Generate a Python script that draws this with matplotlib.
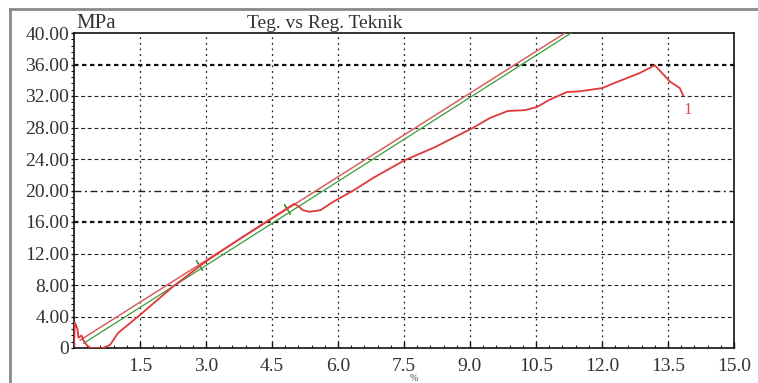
import matplotlib
matplotlib.use("Agg")
import matplotlib.pyplot as plt
from matplotlib.lines import Line2D
from matplotlib.ticker import MultipleLocator, FixedLocator, FixedFormatter

# Stress-strain record (strain in %, stress in MPa)
strain = [0.0, 0.02, 0.08, 0.10, 0.17, 0.22, 0.30, 0.38, 0.66, 0.82, 1.0, 1.5, 2.25,
          3.0, 3.75, 4.5, 5.0, 5.1, 5.2, 5.35, 5.6, 5.9, 6.35, 6.8, 7.5, 8.2, 8.8,
          9.05, 9.45, 9.86, 10.25, 10.52, 10.8, 11.2, 11.5, 12.0, 12.35, 12.85,
          13.2, 13.55, 13.77, 13.84]
stress = [0.2, 3.2, 2.4, 1.3, 1.6, 0.9, 0.3, 0.0, 0.0, 0.4, 1.9, 4.2, 7.8,
          11.0, 13.8, 16.5, 18.3, 18.0, 17.5, 17.3, 17.5, 18.6, 20.0, 21.6, 23.8, 25.5, 27.2,
          27.9, 29.2, 30.1, 30.2, 30.6, 31.5, 32.5, 32.6, 33.0, 33.8, 34.9,
          35.9, 33.8, 33.0, 32.1]

# Modulus lines (end points) and fit-range marks
mod_red_x = [0.14, 11.16]
mod_red_y = [1.0, 40.0]
mod_green_x = [0.22, 11.30]
mod_green_y = [0.6, 40.0]
fit_x = [2.85, 4.85]
fit_y = [10.6, 17.7]

x_ticks = [0, 1.5, 3.0, 4.5, 6.0, 7.5, 9.0, 10.5, 12.0, 13.5, 15.0]
x_labels = ["", "1.5", "3.0", "4.5", "6.0", "7.5", "9.0", "10.5", "12.0", "13.5", "15.0"]
y_ticks = [0, 4, 8, 12, 16, 20, 24, 28, 32, 36, 40]
y_labels = ["0", "4.00", "8.00", "12.00", "16.00", "20.00", "24.00", "28.00",
            "32.00", "36.00", "40.00"]

W, H = 758, 383
fig = plt.figure(figsize=(W / 100, H / 100), dpi=100)
fig.patch.set_facecolor("white")
plt.rcParams["font.family"] = ["Liberation Serif", "DejaVu Serif"]

L, R, T, B = 74, 734, 33, 348
ax = fig.add_axes([L / W, 1 - B / H, (R - L) / W, (B - T) / H])
ax.set_xlim(0, 15)
ax.set_ylim(0, 40)

# grid
gcol = "#222222"
for xv in x_ticks[1:-1]:
    ax.axvline(xv, color=gcol, lw=0.9, ls=(0, (1.5, 3.0)), zorder=1)
for yv in y_ticks[1:-1]:
    if yv in (16, 36):
        ax.axhline(yv, color="#111111", lw=1.6, ls=(0, (2.0, 1.6)), zorder=1)
    elif yv == 20:
        ax.axhline(yv, color=gcol, lw=1.0, ls=(0, (5, 2.5, 1.5, 2.5)), zorder=1)
    else:
        ax.axhline(yv, color=gcol, lw=0.8, ls=(0, (3.5, 2.5)), zorder=1)

# curves
ax.plot(mod_green_x, mod_green_y, color="#3c9a3c", lw=0.9, zorder=3)
ax.plot(fit_x, fit_y, ls="none", marker=(2, 2, 32), markersize=9,
        markeredgecolor="#3c9a3c", markeredgewidth=0.9, zorder=3)
ax.plot(mod_red_x, mod_red_y, color="#d86060", lw=1.1, zorder=3)
ax.plot(strain, stress, color="#e03838", lw=1.3, zorder=4)
ax.text(13.95, 30.2, "1", color="#e04848", fontsize=12, ha="center", va="center", zorder=5)

# ticks
ax.xaxis.set_major_locator(FixedLocator(x_ticks))
ax.xaxis.set_major_formatter(FixedFormatter(x_labels))
ax.yaxis.set_major_locator(FixedLocator(y_ticks))
ax.yaxis.set_major_formatter(FixedFormatter(y_labels))
ax.xaxis.set_minor_locator(MultipleLocator(0.3))
ax.yaxis.set_minor_locator(MultipleLocator(0.8))
ax.tick_params(axis="x", which="major", direction="in", length=4, width=1.0,
               labelsize=14, pad=7, colors="#111111", labelcolor="#333333")
ax.tick_params(axis="x", which="minor", direction="in", length=2.5, width=0.8, colors="#111111")
ax.tick_params(axis="y", which="major", direction="out", length=2.5, width=1.0,
               labelsize=14, pad=1, colors="#111111", labelcolor="#333333")
ax.tick_params(axis="y", which="minor", direction="out", length=2, width=0.8, colors="#111111")
for s in ax.spines.values():
    s.set_color("#111111")
    s.set_linewidth(1.2)

# texts above the plot
fig.text(76 / W, 1 - 28 / H, "MPa", fontsize=15, color="#333333", ha="left", va="baseline")
fig.text(247 / W, 1 - 28 / H, "Teg. vs Reg. Teknik", fontsize=14, color="#333333",
         ha="left", va="baseline")
fig.text(414 / W, 1 - 381 / H, "%", fontsize=7, color="#444444", ha="center", va="baseline")

# outer frame (top and left edges)
fig.add_artist(Line2D([10 / W, 1.0], [1 - 9 / H, 1 - 9 / H], color="#8a8a8a", lw=2.0,
                      transform=fig.transFigure))
fig.add_artist(Line2D([10 / W, 10 / W], [0.0, 1 - 9 / H], color="#8a8a8a", lw=2.0,
                      transform=fig.transFigure))

fig.savefig("out.png", dpi=100, facecolor="white")
